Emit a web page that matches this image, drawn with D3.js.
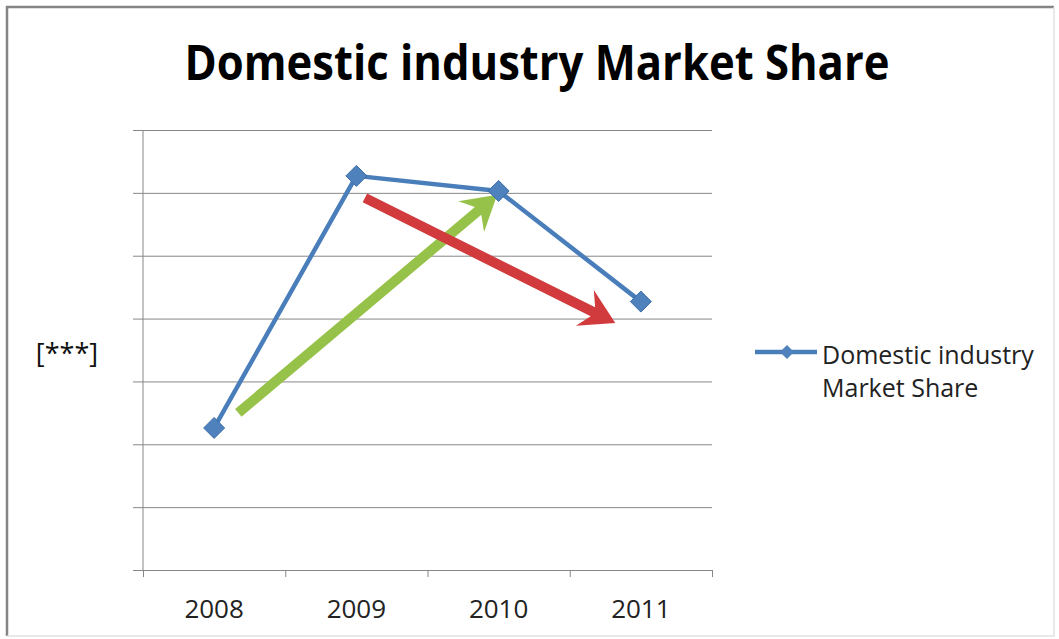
<!DOCTYPE html>
<html>
<head>
<meta charset="utf-8">
<script src="https://cdn.jsdelivr.net/npm/d3@7"></script>
<style>
  html, body { margin: 0; padding: 0; background: #fff; }
  svg { display: block; font-family: 'Open Sans', 'DejaVu Sans', sans-serif; }
</style>
</head>
<body>
<script>
// chart values
var years = ['2008', '2009', '2010', '2011']
var share = [2.26, 6.27, 6.03, 4.27]
var yTicks = [0, 1, 2, 3, 4, 5, 6, 7]
var seriesName = ['Domestic industry', 'Market Share']
var title = 'Domestic industry Market Share'
var yLabel = '[***]'

// trend arrows, as [category position, value] pairs (tail, tip)
var arrows = [
  { color: '#97c24a', from: [0.17, 2.50], to: [1.99, 5.97] },
  { color: '#d23b3d', from: [1.06, 5.92], to: [2.82, 3.93] }
]

var W = 1059, H = 639
var margin = { top: 130, right: 347, bottom: 69, left: 143 },
  width = W - margin.left - margin.right,
  height = H - margin.top - margin.bottom

var svg = d3.select('body').append('svg')
  .attr('width', W)
  .attr('height', H)

// outer frame: dark top/left, faint right/bottom
svg.append('path')
  .attr('d', 'M1054,7H7V636')
  .attr('fill', 'none')
  .attr('stroke', '#858585')
  .attr('stroke-width', 2.5)
svg.append('path')
  .attr('d', 'M1054,7V636H7')
  .attr('fill', 'none')
  .attr('stroke', '#e2e2e2')
  .attr('stroke-width', 1.5)

svg.append('text')
  .attr('x', 537)
  .attr('y', 80)
  .attr('text-anchor', 'middle')
  .attr('font-size', 49)
  .attr('font-weight', 'bold')
  .attr('fill', '#000')
  .attr('textLength', 705)
  .attr('lengthAdjust', 'spacingAndGlyphs')
  .text(title)

var g = svg.append('g')
  .attr('transform', 'translate(' + margin.left + ',' + margin.top + ')')

var x = d3.scaleBand().domain(years).range([0, width])
var xPos = d3.scaleLinear().domain([0, years.length]).range([0, width])
var y = d3.scaleLinear().domain([0, 7]).range([height, 0])

// gridlines plus the little left ticks
g.append('g')
  .call(d3.axisLeft(y).tickValues(yTicks).tickFormat('').tickSizeInner(-width).tickSizeOuter(0))
  .call(function(a) {
    a.select('.domain').remove()
    a.selectAll('line').attr('stroke', '#878787').attr('x1', -10)
  })

g.append('line')
  .attr('x1', 0).attr('x2', 0)
  .attr('y1', 0).attr('y2', height)
  .attr('stroke', '#878787')

// x axis: ticks between categories, labels centred
g.append('g')
  .attr('transform', 'translate(0,' + height + ')')
  .call(d3.axisBottom(xPos).tickValues(d3.range(years.length + 1)).tickFormat('').tickSizeInner(7).tickSizeOuter(0))
  .call(function(a) {
    a.select('.domain').attr('stroke', '#878787')
    a.selectAll('line').attr('stroke', '#878787')
  })

g.append('g')
  .attr('transform', 'translate(0,' + height + ')')
  .call(d3.axisBottom(x).tickSize(0).tickPadding(30))
  .call(function(a) {
    a.select('.domain').remove()
    a.selectAll('text')
      .attr('font-size', 26)
      .attr('font-family', "'Open Sans', sans-serif")
      .attr('fill', '#222')
  })

svg.append('text')
  .attr('x', 67)
  .attr('y', 363)
  .attr('text-anchor', 'middle')
  .attr('font-size', 27)
  .attr('fill', '#111')
  .text(yLabel)

// arrows
function arrowPath(p0, p1) {
  var dx = p1[0] - p0[0], dy = p1[1] - p0[1]
  var len = Math.sqrt(dx * dx + dy * dy)
  var ux = dx / len, uy = dy / len, nx = -uy, ny = ux
  var sw = 5, hl = 34, hw = 20, notch = 9
  function pt(a, b) { return [p0[0] + ux * a + nx * b, p0[1] + uy * a + ny * b] }
  var pts = [
    pt(0, -sw), pt(len - hl + notch, -sw), pt(len - hl, -hw), pt(len, 0),
    pt(len - hl, hw), pt(len - hl + notch, sw), pt(0, sw)
  ]
  return 'M' + pts.map(function(p) { return p.join(',') }).join('L') + 'Z'
}

var cx = function(i) { return xPos(i + 0.5) }

g.selectAll('.arrow')
  .data(arrows)
  .enter()
  .append('path')
  .attr('class', 'arrow')
  .attr('d', function(d) {
    return arrowPath([cx(d.from[0]), y(d.from[1])], [cx(d.to[0]), y(d.to[1])])
  })
  .attr('fill', function(d) { return d.color })

// series line
var line = d3.line()
  .x(function(d, i) { return x(years[i]) + x.bandwidth() / 2 })
  .y(function(d) { return y(d) })

g.append('path')
  .datum(share)
  .attr('d', line)
  .attr('fill', 'none')
  .attr('stroke', '#4a7ebb')
  .attr('stroke-width', 4.5)
  .attr('stroke-linejoin', 'round')

function diamond(r) {
  return 'M0,' + (-r) + 'L' + r + ',0L0,' + r + 'L' + (-r) + ',0Z'
}

g.selectAll('.pt')
  .data(share)
  .enter()
  .append('path')
  .attr('class', 'pt')
  .attr('transform', function(d, i) {
    return 'translate(' + (x(years[i]) + x.bandwidth() / 2) + ',' + y(d) + ')'
  })
  .attr('d', diamond(10.5))
  .attr('fill', '#4f81bd')
  .attr('stroke', '#3c6ea8')
  .attr('stroke-width', 1)

// legend
var lg = svg.append('g').attr('transform', 'translate(755,352)')
lg.append('line')
  .attr('x1', 0).attr('x2', 62)
  .attr('stroke', '#4a7ebb')
  .attr('stroke-width', 4.5)
lg.append('path')
  .attr('transform', 'translate(32,0)')
  .attr('d', diamond(7))
  .attr('fill', '#4f81bd')

lg.selectAll('text')
  .data(seriesName)
  .enter()
  .append('text')
  .attr('x', 67)
  .attr('y', function(d, i) { return 12 + i * 33 })
  .attr('font-size', 25)
  .attr('fill', '#222')
  .text(function(d) { return d })
</script>
</body>
</html>
